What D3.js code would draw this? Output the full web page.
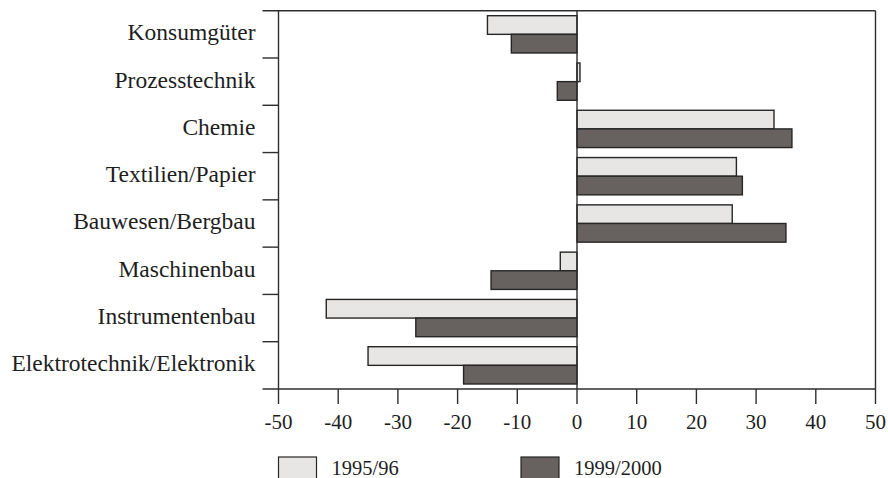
<!DOCTYPE html>
<html>
<head>
<meta charset="utf-8">
<script src="https://cdn.jsdelivr.net/npm/d3@7"></script>
<style>
  body { margin: 0; background: #fff; }
  svg { display: block; }
</style>
</head>
<body>
<div id="chart"></div>
<script>
// Layout
const width = 888;
const height = 478;
const margin = {top: 10.7, right: 12.5, bottom: 89, left: 278.5};

// Data
const categories = [
  "Konsumgüter", "Prozesstechnik", "Chemie", "Textilien/Papier",
  "Bauwesen/Bergbau", "Maschinenbau", "Instrumentenbau", "Elektrotechnik/Elektronik"
];
const seriesNames = ["1995/96", "1999/2000"];
const values1995 = [-15, 0.5, 33, 26.7, 26, -2.8, -42, -35];
const values1999 = [-11, -3.3, 36, 27.7, 35, -14.4, -27, -19];
const xTicks = [-50, -40, -30, -20, -10, 0, 10, 20, 30, 40, 50];

const colors = ["#e7e6e4", "#67625f"];
const strokeCol = "#262626";
const font = "'Liberation Serif', 'Times New Roman', serif";

const rows = categories.map((c, i) => ({cat: c, vals: [values1995[i], values1999[i]]}));

const svg = d3.select("#chart").append("svg")
  .attr("width", width)
  .attr("height", height)
  .style("font-family", font);

const x = d3.scaleLinear()
  .domain([-50, 50])
  .range([margin.left, width - margin.right]);

const y = d3.scaleBand()
  .domain(categories)
  .range([margin.top, height - margin.bottom]);

const yInner = d3.scaleBand()
  .domain(seriesNames)
  .range([5, y.bandwidth() - 5]);

const plotTop = margin.top, plotBottom = height - margin.bottom;

// bars
const groups = svg.append("g").selectAll("g").data(rows).join("g")
  .attr("transform", d => `translate(0,${y(d.cat)})`);

groups.selectAll("rect").data(d => d.vals.map((v, k) => ({v, k}))).join("rect")
  .attr("x", d => x(Math.min(0, d.v)))
  .attr("width", d => Math.abs(x(d.v) - x(0)))
  .attr("y", d => yInner(seriesNames[d.k]))
  .attr("height", yInner.bandwidth())
  .attr("fill", d => colors[d.k])
  .attr("stroke", strokeCol)
  .attr("stroke-width", 1.4);

// frame & axes
const lines = svg.append("g").attr("stroke", "#2e2e2e").attr("stroke-width", 1.4).attr("fill", "none");
lines.append("line") // top
  .attr("x1", margin.left - 16).attr("x2", x(50)).attr("y1", plotTop).attr("y2", plotTop);
lines.append("line") // left axis
  .attr("x1", margin.left).attr("x2", margin.left).attr("y1", plotTop).attr("y2", plotBottom);
lines.append("line") // right
  .attr("x1", x(50)).attr("x2", x(50)).attr("y1", plotTop).attr("y2", plotBottom);
lines.append("line") // zero line
  .attr("x1", x(0)).attr("x2", x(0)).attr("y1", plotTop).attr("y2", plotBottom);
lines.append("line") // bottom axis
  .attr("x1", margin.left - 16).attr("x2", x(50)).attr("y1", plotBottom).attr("y2", plotBottom);

// category ticks at band boundaries
lines.selectAll(".ytick").data(categories.slice(1)).join("line")
  .attr("class", "ytick")
  .attr("x1", margin.left - 16).attr("x2", margin.left)
  .attr("y1", d => y(d)).attr("y2", d => y(d));

// x ticks
lines.selectAll(".xtick").data(xTicks).join("line")
  .attr("class", "xtick")
  .attr("x1", d => x(d)).attr("x2", d => x(d))
  .attr("y1", plotBottom).attr("y2", plotBottom + 15);

svg.append("g").selectAll("text").data(xTicks).join("text")
  .attr("x", d => x(d))
  .attr("y", plotBottom + 40)
  .attr("text-anchor", "middle")
  .attr("font-size", 21)
  .attr("fill", "#1e1e1e")
  .text(d => d);

// category labels
svg.append("g").selectAll("text").data(categories).join("text")
  .attr("x", margin.left - 23)
  .attr("y", d => y(d) + y.bandwidth() / 2 + 6)
  .attr("text-anchor", "end")
  .attr("font-size", 23.5)
  .attr("fill", "#1e1e1e")
  .text(d => d);

// legend
const legendX = [margin.left, 521];
const legend = svg.append("g").selectAll("g").data(seriesNames).join("g")
  .attr("transform", (d, i) => `translate(${legendX[i]},457)`);
legend.append("rect")
  .attr("width", 38).attr("height", 28)
  .attr("fill", (d, i) => colors[i])
  .attr("stroke", strokeCol).attr("stroke-width", 1.2);
legend.append("text")
  .attr("x", 53).attr("y", 18)
  .attr("font-size", 20.5)
  .attr("fill", "#1e1e1e")
  .text(d => d);
</script>
</body>
</html>
